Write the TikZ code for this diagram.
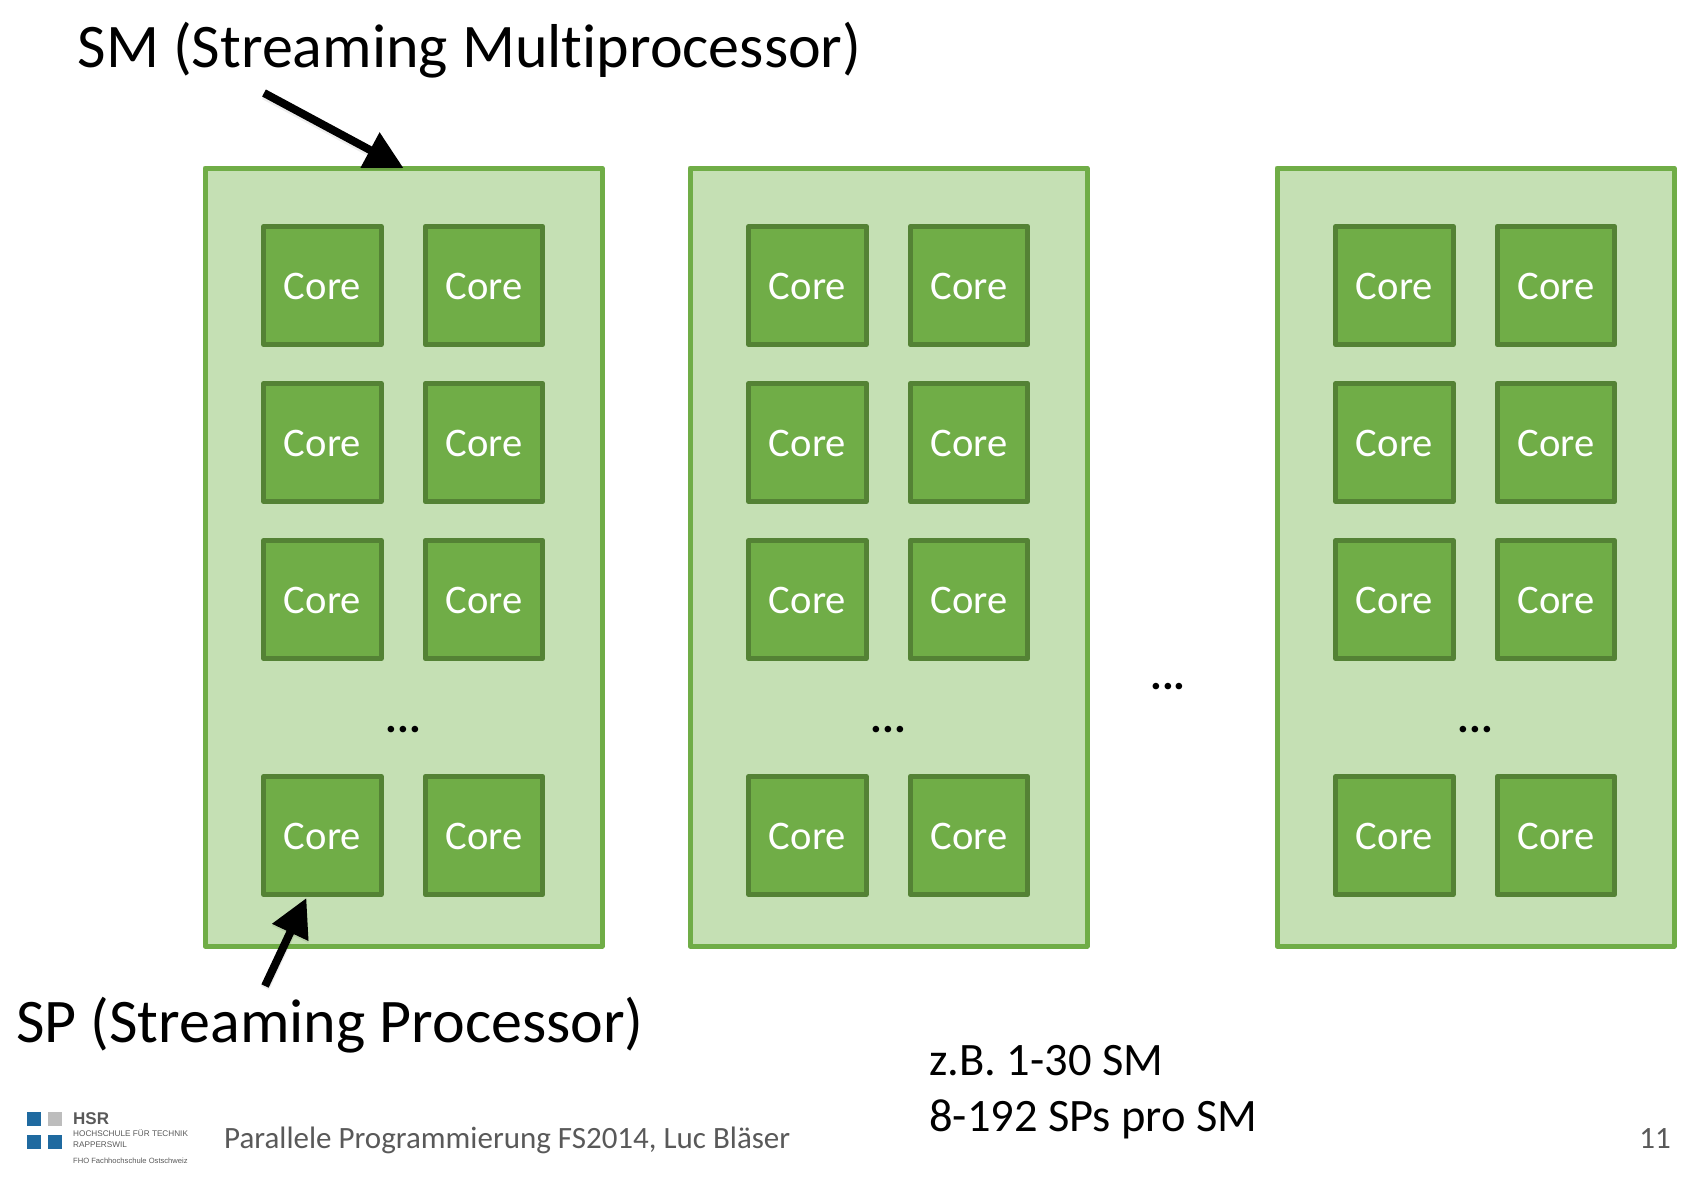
\documentclass[tikz,border=0pt]{standalone}
\usepackage{fontspec}
\setmainfont[Ligatures=CommonOff]{Carlito}
\newfontfamily\logofont{Liberation Sans}
\usetikzlibrary{arrows.meta}
\definecolor{smfill}{HTML}{C5E0B4}
\definecolor{smline}{HTML}{70AD47}
\definecolor{corefill}{HTML}{70AD47}
\definecolor{coreline}{HTML}{548235}
\definecolor{footgray}{HTML}{595959}
\definecolor{hsrblue}{HTML}{1F6AA0}
\definecolor{hsrgray}{HTML}{BDBDBD}
\tikzset{
  smbox/.style={draw=smline,fill=smfill,line width=5pt,line join=round,minimum width=397pt,minimum height=778pt,inner sep=0pt,outer sep=0pt},
  corebox/.style={draw=coreline,fill=corefill,line width=5pt,line join=round,minimum width=117.5pt,minimum height=118pt,inner sep=0pt,outer sep=0pt,text=white,text height=29pt,font=\fontsize{40.6}{44}\selectfont},
  title/.style={anchor=base west,inner sep=0pt,text=black,font=\fontsize{62}{66}\selectfont},
  note/.style={anchor=base west,inner sep=0pt,text=black,font=\fontsize{46.5}{50}\selectfont},
  foot/.style={anchor=base west,inner sep=0pt,text=footgray,font=\fontsize{31}{34}\selectfont},
  dotsnode/.style={inner sep=0pt,text=black,font=\bfseries\fontsize{44}{48}\selectfont},
  bigarrow/.style={line width=8pt,-{Triangle[length=38pt,width=38pt]},black,
    preaction={draw=black,draw opacity=.07,line width=9pt,transform canvas={yshift=-2pt}}},
  logosq/.style={inner sep=0pt,outer sep=0pt,minimum size=14pt,fill=hsrblue},
  logotxt/.style={anchor=base west,inner sep=0pt,text=footgray},
}
\begin{document}
\begin{tikzpicture}[x=1pt,y=-1pt]
\useasboundingbox (0,0) rectangle (1688,1180);
\foreach \b/\dx in {1/0,2/485,3/1072}{
  \node[smbox] (sm\b) at ({403.5+\dx},557) {};
  \foreach \r/\yy in {1/285.5,2/442.5,3/599.5,4/835.5}{
    \node[corebox] (core-\b-\r-1) at ({322.4+\dx},\yy) {Core};
    \node[corebox] (core-\b-\r-2) at ({484+\dx},\yy) {Core};
  }
  \node[dotsnode] (dots\b) at ({403.5+\dx},730) {...};
}
\node[dotsnode] (dotsmid) at (1168,687) {...};
\node[title] (smlabel) at (77.5,68) {SM (Streaming Multiprocessor)};
\node[title] (splabel) at (16,1042) {SP (Streaming Processor)};
\coordinate (smstart) at (264,93);
\coordinate (spstart) at (265,986);
\draw[bigarrow] (smstart) -- (sm1.north);
\draw[bigarrow] (spstart) -- ([xshift=-16pt,yshift=-3.5pt]core-1-4-1.south);
\node[note] (note1) at (929,1075) {z.B. 1-30 SM};
\node[note] (note2) at (929,1131) {8-192 SPs pro SM};
\node[foot] (footer) at (224,1148) {Parallele Programmierung FS2014, Luc Bläser};
\node[foot,anchor=base east] (pageno) at (1671,1148) {11};
% logo
\node[logosq] (sqa) at (34,1118.5) {};
\node[logosq,fill=hsrgray] (sqb) at (55,1118.5) {};
\node[logosq] (sqc) at (34,1141.5) {};
\node[logosq] (sqd) at (55,1141.5) {};
\node[logotxt,font=\logofont\bfseries\fontsize{17}{19}\selectfont] (hsr) at (73,1124) {HSR};
\node[logotxt,font=\logofont\fontsize{8.2}{10}\selectfont] (hsra) at (73,1136) {HOCHSCHULE FÜR TECHNIK};
\node[logotxt,font=\logofont\fontsize{8.2}{10}\selectfont] (hsrb) at (73,1147) {RAPPERSWIL};
\node[logotxt,font=\logofont\fontsize{7.6}{9}\selectfont] (hsrc) at (73,1163) {FHO Fachhochschule Ostschweiz};
\end{tikzpicture}
\end{document}
